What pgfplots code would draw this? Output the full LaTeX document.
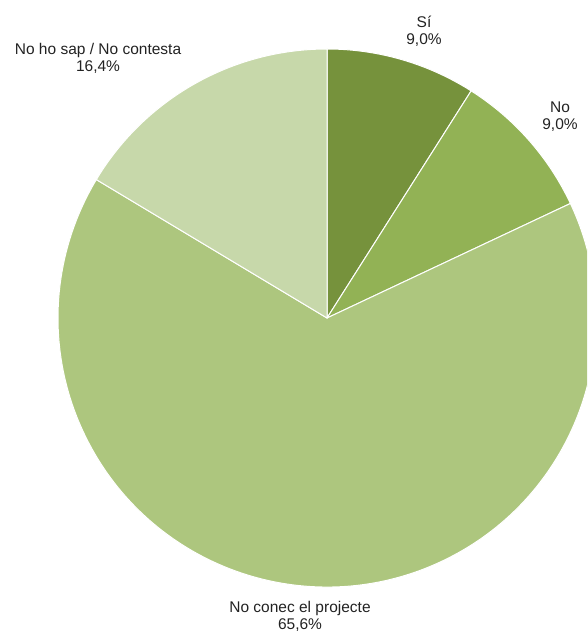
\documentclass[border=0pt]{standalone}
\usepackage{pgfplots}
\pgfplotsset{compat=1.18}
\usepackage{pgfplotstable}
\usepackage{fontspec}
\setmainfont{Liberation Sans}
\definecolor{cSi}{HTML}{76923C}
\definecolor{cNo}{HTML}{92B255}
\definecolor{cConec}{HTML}{ADC67E}
\definecolor{cSap}{HTML}{C7D8AA}
\definecolor{txt}{HTML}{222222}

\pgfplotstableread{
label value
Si 9.0
No 9.0
NoConec 65.6
NoSap 16.4
}\piedata

\pgfplotstablegetelem{0}{value}\of\piedata \let\vA\pgfplotsretval
\pgfplotstablegetelem{1}{value}\of\piedata \let\vB\pgfplotsretval
\pgfplotstablegetelem{2}{value}\of\piedata \let\vC\pgfplotsretval
\pgfplotstablegetelem{3}{value}\of\piedata \let\vD\pgfplotsretval
\pgfmathsetmacro{\aO}{90}
\pgfmathsetmacro{\aA}{\aO-3.6*\vA}
\pgfmathsetmacro{\aB}{\aA-3.6*\vB}
\pgfmathsetmacro{\aC}{\aB-3.6*\vC}
\pgfmathsetmacro{\aD}{\aC-3.6*\vD}

\begin{document}
\begin{tikzpicture}
\useasboundingbox (0,0) rectangle (587pt,632pt);
\begin{axis}[at={(0,0)}, anchor=south west, scale only axis,
  width=587pt, height=632pt, xmin=0, xmax=587, ymin=0, ymax=632,
  hide axis, clip=true]
\fill[cSi, draw=white, line width=1pt] (axis cs:327,314) -- ++(\aO:269pt) arc[start angle=\aO, end angle=\aA, radius=269pt] -- cycle;
\fill[cNo, draw=white, line width=1pt] (axis cs:327,314) -- ++(\aA:269pt) arc[start angle=\aA, end angle=\aB, radius=269pt] -- cycle;
\fill[cConec, draw=white, line width=1pt] (axis cs:327,314) -- ++(\aB:269pt) arc[start angle=\aB, end angle=\aC, radius=269pt] -- cycle;
\fill[cSap, draw=white, line width=1pt] (axis cs:327,314) -- ++(\aC:269pt) arc[start angle=\aC, end angle=\aD, radius=269pt] -- cycle;
\begin{scope}[every node/.style={align=center, text=txt, font=\fontsize{15.5}{17}\selectfont, inner sep=0pt}]
\node at (axis cs:424,601) {Sí\\9,0\%};
\node at (axis cs:560,515) {No\\9,0\%};
\node at (axis cs:98,574) {No ho sap / No contesta\\16,4\%};
\node at (axis cs:300,16) {No conec el projecte\\65,6\%};
\end{scope}
\end{axis}
\end{tikzpicture}
\end{document}
